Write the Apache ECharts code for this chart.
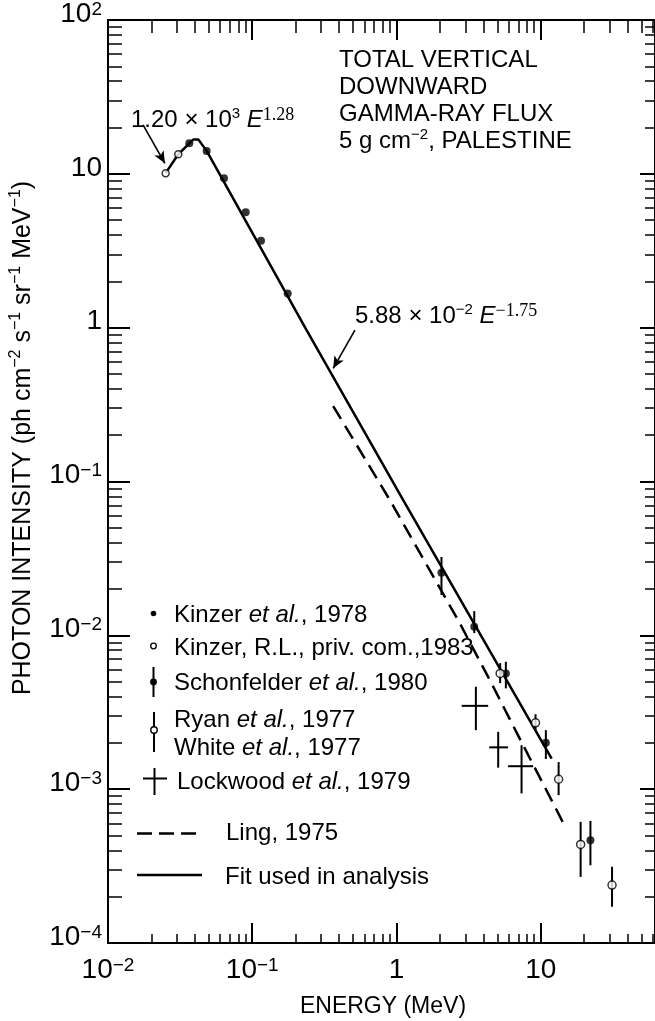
<!DOCTYPE html>
<html lang="en">
<head>
<meta charset="UTF-8">
<title>Total vertical downward gamma-ray flux</title>
<script src="https://cdn.jsdelivr.net/npm/echarts@6/dist/echarts.min.js"></script>
<style>
  html, body { margin: 0; padding: 0; background: #fff; }
  #chart { width: 655px; height: 1021px; }
</style>
</head>
<body>
<div id="chart"></div>
<script>
  // energies in MeV, intensities in ph cm-2 s-1 sr-1 MeV-1
  const kinzer78E = [0.0366, 0.0483, 0.0637, 0.0900, 0.115, 0.176];
  const kinzer78I = [15.8, 14.1, 9.35, 5.62, 3.67, 1.67];

  const kinzerPrivE = [0.0251, 0.0307];
  const kinzerPrivI = [10.1, 13.4];

  const schonE  = [2.05, 3.46, 5.73, 10.85, 22.1];
  const schonI  = [0.0255, 0.01136, 0.00565, 0.00200, 0.000466];
  const schonLo = [0.0183, 0.01034, 0.00452, 0.00157, 0.000320];
  const schonHi = [0.0323, 0.01437, 0.00673, 0.00242, 0.000622];

  const ryanE  = [5.23, 9.20, 13.3, 18.9, 31.2];
  const ryanI  = [0.00565, 0.00270, 0.00116, 0.000437, 0.000238];
  const ryanLo = [0.00489, 0.00242, 0.000914, 0.000269, 0.000172];
  const ryanHi = [0.00659, 0.00307, 0.00150, 0.000613, 0.000313];

  const lockE   = [3.55, 5.07, 7.36];
  const lockELo = [2.83, 4.39, 5.94];
  const lockEHi = [4.32, 5.94, 8.86];
  const lockI   = [0.00348, 0.00187, 0.00141];
  const lockILo = [0.00242, 0.00138, 0.000938];
  const lockIHi = [0.00463, 0.00236, 0.00193];

  // fit used in analysis (solid) and Ling 1975 (dashed)
  const fitE = [0.0251, 0.0307, 0.0366, 0.0390, 0.0423, 0.0483, 0.238, 1.113, 11.9];
  const fitI = [10.1, 13.4, 15.8, 16.7, 16.7, 14.1, 0.965, 0.0757, 0.00158];
  const lingE = [0.364, 0.900, 2.75, 4.44, 7.55, 14.2];
  const lingI = [0.309, 0.0757, 0.01195, 0.00511, 0.00193, 0.000613];

  // arrows from the two formula labels
  const arrowLow  = [[0.0175, 20.8], [0.0248, 11.7]];
  const arrowHigh = [[0.515, 0.965], [0.364, 0.544]];

  const SANS = '"Liberation Sans", Arial, sans-serif';
  const SERIF = '"Liberation Serif", "Times New Roman", serif';
  const NARROW = '"Liberation Sans Narrow", "Liberation Sans", sans-serif';

  const zip = (a, b) => a.map((v, i) => [v, b[i]]);

  function powLabel(v) {
    const lg = Math.log10(v);
    const n = Math.round(lg);
    if (Math.abs(lg - n) > 1e-6) return '';
    if (n === 0) return '{b|1}';
    if (n === 1) return '{b|10}';
    return '{b|10}{s|' + (n < 0 ? '\u2212' + (-n) : n) + '}';
  }
  const labelRich = {
    b: { fontFamily: NARROW, fontSize: 28, lineHeight: 28, color: '#000' },
    s: { fontFamily: NARROW, fontSize: 19, lineHeight: 15, verticalAlign: 'top', color: '#000' }
  };
  const supRich = {
    n: { fontFamily: SANS, fontSize: 24, lineHeight: 28, color: '#000' },
    s: { fontFamily: SANS, fontSize: 15, lineHeight: 14, verticalAlign: 'top', color: '#000' },
    e: { fontFamily: SANS, fontSize: 24, lineHeight: 28, fontStyle: 'italic', color: '#000' },
    t: { fontFamily: SERIF, fontSize: 18, lineHeight: 14, verticalAlign: 'top', color: '#000' },
    i: { fontFamily: SANS, fontSize: 24, lineHeight: 28, fontStyle: 'italic', color: '#000' }
  };

  const black = '#000';
  const tick = (len, w) => ({ inside: true, length: len, lineStyle: { color: black, width: w } });
  const minor = (len) => ({ show: true, splitNumber: 9, length: len, lineStyle: { color: black, width: 1.5 } });

  function vBar(params, api) {
    const a = api.coord([api.value(0), api.value(2)]);
    const b = api.coord([api.value(0), api.value(3)]);
    return { type: 'line', shape: { x1: a[0], y1: a[1], x2: b[0], y2: b[1] },
             style: { stroke: black, lineWidth: 2 } };
  }
  function cross(params, api) {
    const l = api.coord([api.value(2), api.value(1)]);
    const r = api.coord([api.value(3), api.value(1)]);
    const t = api.coord([api.value(0), api.value(5)]);
    const b = api.coord([api.value(0), api.value(4)]);
    return { type: 'group', children: [
      { type: 'line', shape: { x1: l[0], y1: l[1], x2: r[0], y2: r[1] }, style: { stroke: black, lineWidth: 2 } },
      { type: 'line', shape: { x1: t[0], y1: t[1], x2: b[0], y2: b[1] }, style: { stroke: black, lineWidth: 2 } }
    ] };
  }

  // legend drawn by hand, the reference has a two line entry
  const legendText = (x, y, text) => ({
    type: 'text', x: x, y: y,
    style: { text: text, fontFamily: SANS, fontSize: 24, fill: black, verticalAlign: 'middle', rich: supRich }
  });
  const seg = (x1, y1, x2, y2, w) => ({ type: 'line', shape: { x1, y1, x2, y2 }, style: { stroke: black, lineWidth: w || 2 } });

  const graphics = [
    { type: 'text', x: 339, y: 47.5,
      style: { text: 'TOTAL VERTICAL\nDOWNWARD\nGAMMA-RAY FLUX\n{n|5 g cm}{s|\u22122}{n|, PALESTINE}',
               fontFamily: SANS, fontSize: 24, lineHeight: 26.7, fill: black, verticalAlign: 'top', rich: supRich } },
    { type: 'text', x: 131, y: 120,
      style: { text: '{n|1.20 \u00d7 10}{s|3}{n| }{e|E}{t|1.28}', verticalAlign: 'middle', rich: supRich } },
    { type: 'text', x: 355, y: 316,
      style: { text: '{n|5.88 \u00d7 10}{s|\u22122}{n| }{e|E}{t|\u22121.75}', verticalAlign: 'middle', rich: supRich } },

    { type: 'circle', shape: { cx: 153.5, cy: 613.5, r: 2.8 }, style: { fill: black } },
    legendText(174, 615, 'Kinzer {i|et al.}, 1978'),
    { type: 'circle', shape: { cx: 153.5, cy: 646, r: 2.8 }, style: { fill: '#fff', stroke: black, lineWidth: 1.3 } },
    legendText(174, 648, 'Kinzer, R.L., priv. com.,1983'),
    seg(153.5, 667, 153.5, 697),
    { type: 'circle', shape: { cx: 153.5, cy: 682, r: 3.4 }, style: { fill: black } },
    legendText(174, 683, 'Schonfelder {i|et al.}, 1980'),
    seg(154, 712, 154, 752),
    { type: 'circle', shape: { cx: 154, cy: 730, r: 3.2 }, style: { fill: '#fff', stroke: black, lineWidth: 1.4 } },
    legendText(174, 720, 'Ryan {i|et al.}, 1977'),
    legendText(174, 748, 'White {i|et al.}, 1977'),
    seg(143, 778.5, 167, 778.5),
    seg(154.5, 768, 154.5, 795),
    legendText(177, 782, 'Lockwood {i|et al.}, 1979'),
    { type: 'line', shape: { x1: 137, y1: 833.5, x2: 202, y2: 833.5 }, style: { stroke: black, lineWidth: 2.5, lineDash: [15, 7] } },
    legendText(226, 833, 'Ling, 1975'),
    seg(137, 875, 202, 875, 2.5),
    legendText(225, 877, 'Fit used in analysis')
  ];

  const chart = echarts.init(document.getElementById('chart'));
  chart.setOption({
    animation: false,
    backgroundColor: '#fff',
    grid: { left: 108, right: -30, top: 20, bottom: 78, outerBoundsMode: 'none', containLabel: false },
    xAxis: [
      { type: 'log', logBase: 10, min: 0.01, max: 100, position: 'bottom',
        name: 'ENERGY (MeV)', nameLocation: 'middle', nameGap: 52,
        nameTextStyle: { fontFamily: SANS, fontSize: 23, color: black, padding: [0, 27, 0, 0] },
        axisLine: { lineStyle: { color: black, width: 2 } },
        axisTick: tick(20, 2), minorTick: minor(9),
        axisLabel: { formatter: powLabel, rich: labelRich, margin: 13, showMinLabel: true, hideOverlap: false },
        splitLine: { show: false }, minorSplitLine: { show: false } },
      { type: 'log', logBase: 10, min: 0.01, max: 100, position: 'top',
        axisLine: { lineStyle: { color: black, width: 2 } },
        axisTick: tick(20, 2), minorTick: minor(13),
        axisLabel: { show: false }, splitLine: { show: false } }
    ],
    yAxis: [
      { type: 'log', logBase: 10, min: 1e-4, max: 100, position: 'left',
        name: '{n|PHOTON INTENSITY (ph cm}{s|\u22122}{n| s}{s|\u22121}{n| sr}{s|\u22121}{n| MeV}{s|\u22121}{n|)}',
        nameLocation: 'middle', nameRotate: 90, nameGap: 70,
        nameTextStyle: { padding: [0, 0, 0, 87],
          rich: { n: { fontFamily: SANS, fontSize: 25, lineHeight: 30, color: black },
                  s: { fontFamily: SANS, fontSize: 16, lineHeight: 16, verticalAlign: 'top', color: black } } },
        axisLine: { lineStyle: { color: black, width: 2 } },
        axisTick: tick(22, 2), minorTick: minor(14),
        axisLabel: { formatter: powLabel, rich: labelRich, margin: 6, padding: [0, 0, 12, 0], showMinLabel: true, showMaxLabel: true, hideOverlap: false },
        splitLine: { show: false } },
      { type: 'log', logBase: 10, min: 1e-4, max: 100, position: 'right', offset: -30,
        axisLine: { lineStyle: { color: black, width: 2 } },
        axisTick: tick(15, 2), minorTick: minor(10),
        axisLabel: { show: false }, splitLine: { show: false } }
    ],
    graphic: graphics,
    series: [
      { name: 'Fit used in analysis', type: 'line', data: zip(fitE, fitI), symbol: 'none',
        lineStyle: { color: black, width: 2.5 }, z: 2,
        markLine: { silent: true, symbol: ['none', 'arrow'], symbolSize: [8, 12],
          label: { show: false }, lineStyle: { color: black, width: 1.6, type: 'solid' },
          data: [
            [{ coord: arrowLow[0] }, { coord: arrowLow[1] }],
            [{ coord: arrowHigh[0] }, { coord: arrowHigh[1] }]
          ] } },
      { name: 'Ling, 1975', type: 'line', data: zip(lingE, lingI), symbol: 'none',
        lineStyle: { color: black, width: 2.5, type: [15, 8] }, z: 2 },
      { name: 'Schonfelder bars', type: 'custom', renderItem: vBar, z: 3,
        encode: { x: 0, y: 1 },
        data: schonE.map((e, i) => [e, schonI[i], schonLo[i], schonHi[i]]) },
      { name: 'Ryan bars', type: 'custom', renderItem: vBar, z: 3,
        encode: { x: 0, y: 1 },
        data: ryanE.map((e, i) => [e, ryanI[i], ryanLo[i], ryanHi[i]]) },
      { name: 'Lockwood et al., 1979', type: 'custom', renderItem: cross, z: 3,
        encode: { x: 0, y: 1 },
        data: lockE.map((e, i) => [e, lockI[i], lockELo[i], lockEHi[i], lockILo[i], lockIHi[i]]) },
      { name: 'Kinzer et al., 1978', type: 'scatter', data: zip(kinzer78E, kinzer78I),
        symbol: 'circle', symbolSize: 8, itemStyle: { color: black }, z: 5 },
      { name: 'Kinzer, R.L., priv. com., 1983', type: 'scatter', data: zip(kinzerPrivE, kinzerPrivI),
        symbol: 'circle', symbolSize: 7, itemStyle: { color: '#fff', borderColor: black, borderWidth: 1.5 }, z: 5 },
      { name: 'Schonfelder et al., 1980', type: 'scatter', data: zip(schonE, schonI),
        symbol: 'circle', symbolSize: 8, itemStyle: { color: black }, z: 5 },
      { name: 'Ryan / White et al., 1977', type: 'scatter', data: zip(ryanE, ryanI),
        symbol: 'circle', symbolSize: 8, itemStyle: { color: '#fff', borderColor: black, borderWidth: 1.5 }, z: 5 }
    ]
  });
</script>
</body>
</html>
